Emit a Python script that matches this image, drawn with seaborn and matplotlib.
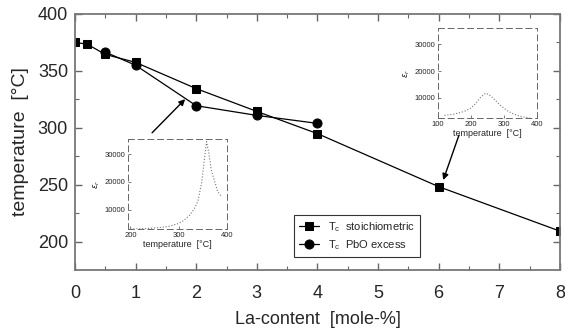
import matplotlib
matplotlib.use("Agg")
import matplotlib.pyplot as plt
import seaborn as sns
import pandas as pd
from matplotlib.ticker import MultipleLocator

# ---- data ----
la_stoich = [0, 0.2, 0.5, 1, 2, 3, 4, 6, 8]
tc_stoich = [375, 373.5, 364.5, 357.5, 334.5, 314.5, 295, 248.5, 209.5]
la_pbo = [0.5, 1, 2, 3, 4]
tc_pbo = [366.5, 355, 319.5, 311, 304]

inset1_temp = [200, 220, 240, 260, 280, 300, 310, 323, 333, 340, 348, 354, 358, 363, 368, 375, 381, 390]
inset1_eps = [3000, 3100, 3250, 3500, 4000, 5000, 6000, 8000, 10500, 13000, 20000, 29000, 34500, 30000, 24000, 20000, 16500, 14500]

inset2_temp = [120, 150, 180, 200, 215, 230, 245, 260, 275, 290, 310, 330, 355, 380]
inset2_eps = [3500, 4000, 5000, 6200, 8000, 10300, 11800, 10800, 9000, 7200, 5300, 4000, 3000, 2500]

main_xticks = [0, 1, 2, 3, 4, 5, 6, 7, 8]
main_yticks = [200, 250, 300, 350, 400]

sns.set_theme(style="ticks")
plt.rcParams['font.family'] = ['Liberation Sans', 'DejaVu Sans']

fig = plt.figure(figsize=(5.65, 3.3), dpi=100)
ax = fig.add_axes([0.1327, 0.1818, 0.8583, 0.776])

df_s = pd.DataFrame({"x": la_stoich, "y": tc_stoich})
df_p = pd.DataFrame({"x": la_pbo, "y": tc_pbo})
sns.lineplot(data=df_s, x="x", y="y", ax=ax, color="black", lw=0.9,
             marker="s", markersize=6, markeredgecolor="black",
             label=r"T$_\mathregular{c}$  stoichiometric")
sns.lineplot(data=df_p, x="x", y="y", ax=ax, color="black", lw=0.9,
             marker="o", markersize=6.5, markeredgecolor="black",
             label=r"T$_\mathregular{c}$  PbO excess")

ax.set_xlim(0, 8)
ax.set_ylim(175.4, 400)
ax.set_xticks(main_xticks)
ax.set_yticks(main_yticks)
ax.xaxis.set_minor_locator(MultipleLocator(0.5))
ax.yaxis.set_minor_locator(MultipleLocator(25))
ax.tick_params(which="both", direction="in", top=True, right=True,
               labeltop=False, labelright=False, color="#666666")
ax.tick_params(which="major", length=5, width=1, labelsize=13)
ax.tick_params(axis="x", which="major", pad=11)
ax.tick_params(axis="y", which="major", pad=5)
ax.tick_params(which="minor", length=3, width=0.8)
for s in ax.spines.values():
    s.set_color("#777777")
    s.set_linewidth(1.3)
ax.set_xlabel("La-content  [mole-%]", fontsize=13, labelpad=6)
ax.set_ylabel("temperature  [°C]", fontsize=14, labelpad=6)

leg = ax.legend(loc="lower left", bbox_to_anchor=(0.44, 0.03), fontsize=8,
                frameon=True, fancybox=False, edgecolor="black",
                handlelength=1.8, borderpad=0.45, labelspacing=0.35)
leg.get_frame().set_linewidth(0.8)

# arrows
ax.annotate("", xy=(1.85, 327), xytext=(1.24, 294),
            arrowprops=dict(arrowstyle="-|>", color="black", lw=1.0, mutation_scale=9))
ax.annotate("", xy=(6.06, 252), xytext=(6.35, 296),
            arrowprops=dict(arrowstyle="-|>", color="black", lw=1.0, mutation_scale=9))

# inset 1
ax1 = fig.add_axes([0.2265, 0.306, 0.175, 0.273])
sns.lineplot(x=inset1_temp, y=inset1_eps, ax=ax1, color="#777777", lw=0.8, linestyle=":")
ax1.set_xlim(195, 400)
ax1.set_ylim(3000, 35500)
ax1.set_xticks([200, 300, 400])
ax1.set_yticks([10000, 20000, 30000])
ax1.set_xticklabels(["200", "300", "400"])
ax1.set_yticklabels(["10000", "20000", "30000"])

# inset 2
ax2 = fig.add_axes([0.775, 0.642, 0.175, 0.273])
sns.lineplot(x=inset2_temp, y=inset2_eps, ax=ax2, color="#777777", lw=0.8, linestyle=":")
ax2.set_xlim(100, 400)
ax2.set_ylim(2500, 36000)
ax2.set_xticks([100, 200, 300, 400])
ax2.set_yticks([10000, 20000, 30000])
ax2.set_yticklabels(["10000", "20000", "30000"])

for a in (ax1, ax2):
    a.patch.set_alpha(0)
    a.tick_params(which="both", direction="in", length=2, width=0.6,
                  labelsize=5.5, pad=2, color="#666666")
    for s in a.spines.values():
        s.set_color("#666666")
        s.set_linewidth(0.7)
        s.set_linestyle((0, (6, 4)))
    a.set_xlabel("temperature  [°C]", fontsize=6.5, labelpad=1)
    a.set_ylabel(r"$\epsilon_r$", fontsize=6, labelpad=2)

fig.savefig("out.png", dpi=100)
